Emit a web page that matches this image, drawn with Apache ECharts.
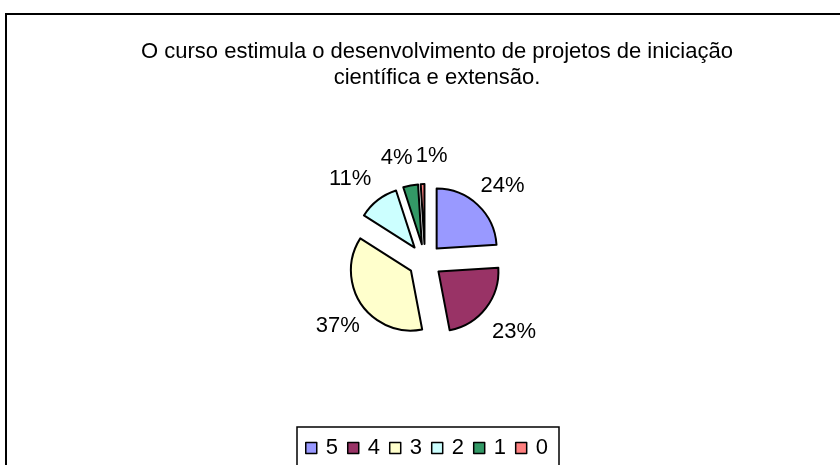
<!DOCTYPE html>
<html>
<head>
<meta charset="utf-8">
<script src="https://cdn.jsdelivr.net/npm/echarts@6/dist/echarts.min.js"></script>
<style>
  html, body { margin: 0; padding: 0; background: #fff; }
  #chart { width: 840px; height: 465px; }
</style>
</head>
<body>
<div id="chart"></div>
<script>
// Data
const categories = ['5', '4', '3', '2', '1', '0'];
const values = [24, 23, 37, 11, 4, 1];
const colors = ['#9999FF', '#993366', '#FFFFCC', '#CCFFFF', '#339966', '#FF8080'];
const titleText = 'O curso estimula o desenvolvimento de projetos de iniciação\ncientífica e extensão.';

const FONT = '"Liberation Sans", Arial, sans-serif';

// horizontal nudges for the crowded labels at the top (like Excel's overlap fix)
const labelNudge = [0, 0, 0, -11, -11, 7];

const chart = echarts.init(document.getElementById('chart'), null, {renderer: 'canvas'});

const pieData = categories.map((name, i) => ({
    name: name,
    value: values[i],
    selected: true,
    itemStyle: {color: colors[i]}
}));

// invisible ring that carries the percent labels, centred on each bisector
const labelData = categories.map((name, i) => ({
    name: name,
    value: values[i],
    label: {offset: [labelNudge[i], 0]}
}));

const option = {
    animation: false,
    backgroundColor: '#fff',
    title: {
        text: titleText,
        left: 432,
        textAlign: 'center',
        top: 34,
        textStyle: {
            fontFamily: FONT,
            fontSize: 22,
            fontWeight: 'normal',
            color: '#000',
            lineHeight: 26
        }
    },
    graphic: [
        {
            type: 'rect',
            shape: {x: 6, y: 14, width: 900, height: 500},
            style: {fill: 'none', stroke: '#000', lineWidth: 2},
            z: -1
        },
        {
            type: 'rect',
            shape: {x: 297, y: 427, width: 262, height: 60},
            style: {fill: 'none', stroke: '#000', lineWidth: 1.5},
            z: -1
        }
    ],
    legend: {
        data: categories,
        left: 300,
        top: 432,
        itemWidth: 11,
        itemHeight: 11,
        itemGap: 9,
        icon: 'rect',
        itemStyle: {borderColor: '#000', borderWidth: 1.5},
        textStyle: {fontFamily: FONT, fontSize: 22, color: '#000', padding: [0, 0, 0, 4]},
        selectedMode: false
    },
    series: [{
        type: 'pie',
        center: [425, 261],
        radius: 60,
        startAngle: 90,
        clockwise: true,
        selectedMode: 'multiple',
        selectedOffset: 17,
        itemStyle: {borderColor: '#000', borderWidth: 2},
        label: {show: false},
        labelLine: {show: false},
        emphasis: {disabled: true},
        data: pieData
    }, {
        type: 'pie',
        center: [428, 265],
        radius: [98, 114],
        startAngle: 90,
        clockwise: true,
        silent: true,
        legendHoverLink: false,
        avoidLabelOverlap: false,
        itemStyle: {color: 'rgba(0,0,0,0)', borderWidth: 0},
        label: {
            show: true,
            position: 'inside',
            formatter: '{d}%',
            fontFamily: FONT,
            fontSize: 22,
            color: '#000'
        },
        labelLayout: {hideOverlap: false},
        emphasis: {disabled: true},
        tooltip: {show: false},
        data: labelData
    }]
};

chart.setOption(option);
</script>
</body>
</html>
